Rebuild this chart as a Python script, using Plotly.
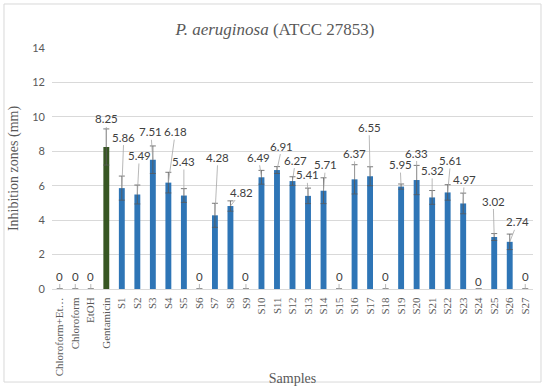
import plotly.graph_objects as go

categories = ["Chloroform+EtOH", "Chloroform", "EtOH", "Gentamicin"] + [f"S{i}" for i in range(1, 28)]
tick_labels = ["Chloroform+Et…", "Chloroform", "EtOH", "Gentamicin"] + [f"S{i}" for i in range(1, 28)]
values = [0, 0, 0, 8.25,
          5.86, 5.49, 7.51, 6.18, 5.43, 0, 4.28, 4.82, 0, 6.49,
          6.91, 6.27, 5.41, 5.71, 0, 6.37, 6.55, 0, 5.95, 6.33,
          5.32, 5.61, 4.97, 0, 3.02, 2.74, 0]
errors = [0, 0, 0, 1.05,
          0.7, 0.55, 0.8, 0.6, 0.4, 0, 0.7, 0.3, 0, 0.4,
          0.2, 0.25, 0.45, 0.75, 0, 0.85, 0.55, 0, 0.15, 0.85,
          0.4, 0.45, 0.6, 0, 0.2, 0.45, 0]

# label offsets in pixels (style)
label_dx = [0, 0, 0, 0,
            2, 2, -2, 7, 0, 0, 3, 11, 0, -3,
            5, 3, -1, 2, 0, 0, -1, 0, -1, 0,
            0, 3, 1, 0, -1, 8, 0]
label_dy = [-13, -13, -13, -28,
            -51, -39, -28, -51, -34, -13, -58, -14, -13, -20,
            -24, -21, -21, -26, -13, -26, -49, -13, -22, -27,
            -27, -32, -24, -8, -36, -20, -13]

colors = ["#2E75B6"] * len(categories)
colors[3] = "#375623"

fig = go.Figure()
fig.add_trace(go.Bar(
    x=categories, y=values,
    marker=dict(color=colors, line=dict(width=0)),
    width=0.38,
    error_y=dict(type="data", array=errors, visible=True, color="#595959", thickness=0.8, width=3),
    showlegend=False,
))

for c, v, dx, dy in zip(categories, values, label_dx, label_dy):
    fig.add_annotation(
        x=c, y=v, xref="x", yref="y",
        text=f"{v:g}" if v != 0 else "0",
        showarrow=True, arrowhead=0, arrowwidth=0.8, arrowcolor="#a6a6a6",
        ax=dx, ay=dy, standoff=0,
        font=dict(family="Lato, sans-serif", size=11.5, color="#404040"),
    )

fig.add_shape(type="rect", xref="paper", yref="paper",
              x0=-0.0998, x1=1.0166, y0=-0.386, y1=1.1826,
              line=dict(color="#d9d9d9", width=1), layer="below")

fig.update_layout(
    width=550, height=386,
    margin=dict(l=52, r=17, t=48, b=97),
    paper_bgcolor="white", plot_bgcolor="white",
    title=dict(text="<i>P. aeruginosa</i> (ATCC 27853)", x=0.5, xanchor="center",
               y=0.925, yanchor="middle",
               font=dict(family="Liberation Serif", size=17, color="#595959")),
    bargap=0.6,
)
fig.update_xaxes(
    tickmode="array", tickvals=categories, ticktext=tick_labels,
    tickangle=-90, showline=True, linecolor="#d9d9d9", linewidth=1,
    ticks="", showgrid=False, automargin=False, ticklabelstandoff=3,
    tickfont=dict(family="Liberation Serif", size=11, color="#595959"),
    title=dict(text="Samples", font=dict(family="Liberation Serif", size=14, color="#595959"), standoff=0),
)
fig.update_yaxes(
    range=[0, 14], dtick=2, showgrid=True, gridcolor="#d9d9d9", gridwidth=1,
    zeroline=False, showline=False, ticks="", automargin=False, ticklabelstandoff=6,
    tickfont=dict(family="Lato, sans-serif", size=11, color="#595959"),
    title=dict(text="Inhibition zones (mm)", font=dict(family="Liberation Serif", size=14, color="#595959"), standoff=10),
)

fig.write_html("out.html", config={"displayModeBar": False},
               post_script="document.body.style.margin='0';")
